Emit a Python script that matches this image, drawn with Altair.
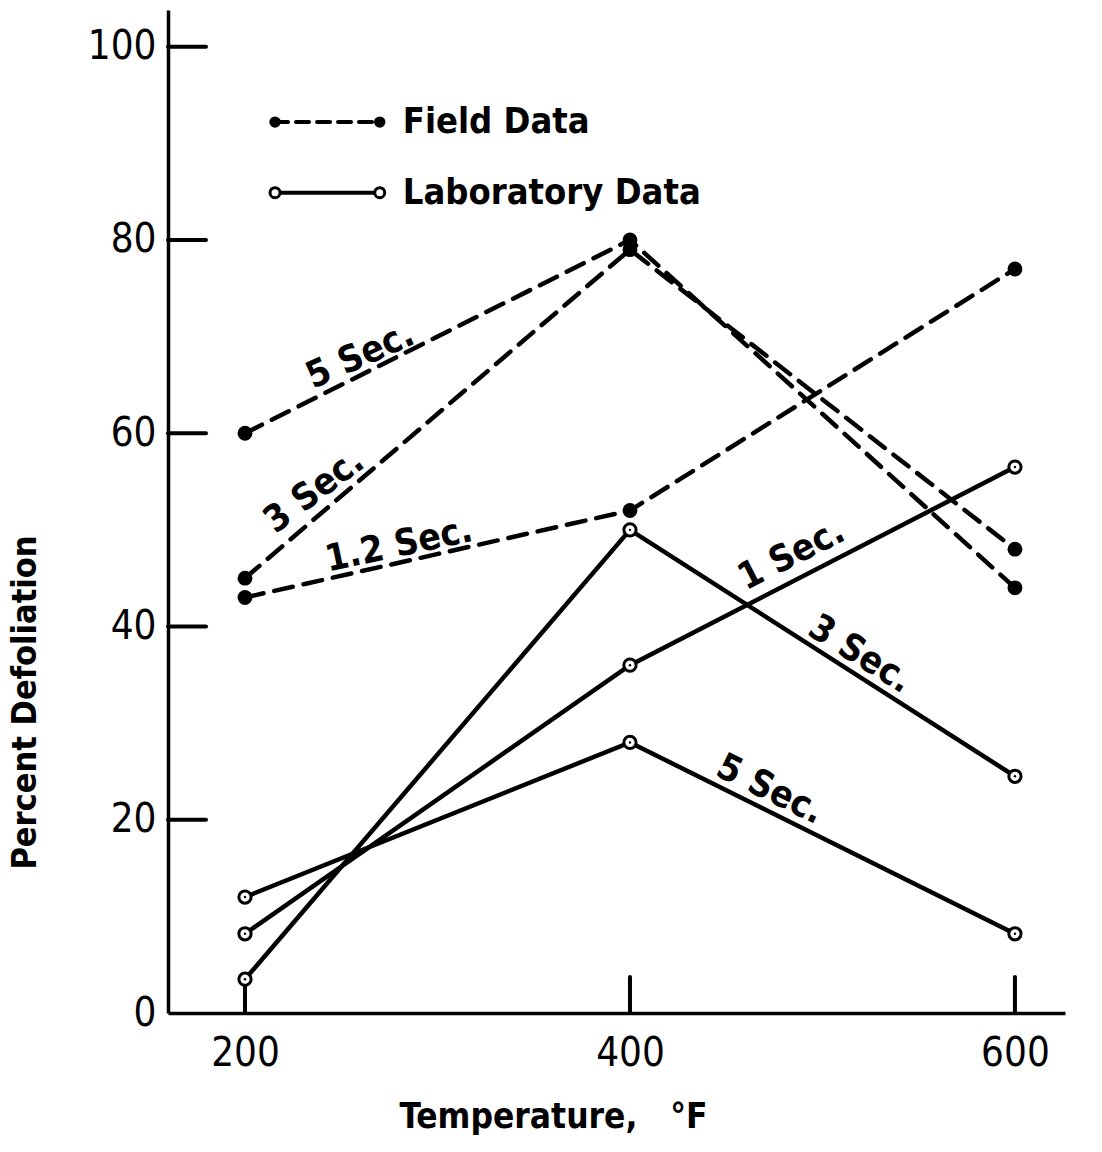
import altair as alt
import pandas as pd

# Temperatures (deg F) at which defoliation was measured
temps = [200, 400, 600]

# Field data (dashed lines, filled markers), one list per exposure time
field_series = ["5 Sec.", "3 Sec.", "1.2 Sec."]
field_values = [
    [60, 80, 44],
    [45, 79, 48],
    [43, 52, 77],
]

# Laboratory data (solid lines, open markers)
lab_series = ["1 Sec.", "3 Sec.", "5 Sec."]
lab_values = [
    [8.2, 36, 56.5],
    [3.5, 50, 24.5],
    [12, 28, 8.2],
]

# Curve labels placed along each line: (x, y, rotation)
field_label_x = [260, 236, 280]
field_label_y = [68, 54, 48.4]
field_label_angle = [336, 323, 348]
lab_label_x = [484, 519.5, 472.7]
lab_label_y = [47.4, 37.1, 23.1]
lab_label_angle = [333, 32, 26]

# Legend entries
legend_names = ["Field Data", "Laboratory Data"]
legend_kind = ["field", "lab"]
legend_y = [92.2, 84.9]
legend_x0 = 215.6
legend_x1 = 270.0
legend_text_x = 282.0

y_ticks = [0, 20, 40, 60, 80, 100]
x_ticks = [200, 400, 600]

FONT = "DejaVu Sans Condensed, Liberation Sans Narrow, DejaVu Sans"
INK = "#000000"
W, H = 897, 1003

# ---- tables ----
rows = []
for name, vals in zip(field_series, field_values):
    for t, v in zip(temps, vals):
        rows.append({"kind": "field", "series": "F " + name, "t": t, "v": v})
for name, vals in zip(lab_series, lab_values):
    for t, v in zip(temps, vals):
        rows.append({"kind": "lab", "series": "L " + name, "t": t, "v": v})
df = pd.DataFrame(rows)

labels = pd.DataFrame(
    {
        "text": field_series + lab_series,
        "t": field_label_x + lab_label_x,
        "v": field_label_y + lab_label_y,
        "angle": field_label_angle + lab_label_angle,
    }
)

leg_rows = []
for name, kind, yy in zip(legend_names, legend_kind, legend_y):
    leg_rows.append({"kind": kind, "series": name, "t": legend_x0, "v": yy})
    leg_rows.append({"kind": kind, "series": name, "t": legend_x1, "v": yy})
leg = pd.DataFrame(leg_rows)
leg_text = pd.DataFrame({"text": legend_names, "t": [legend_text_x] * 2, "v": legend_y})

xscale = alt.Scale(domain=[160, 626], nice=False, zero=False)
yscale = alt.Scale(domain=[0, 103.8], nice=False, zero=True)

x_axis = alt.Axis(
    values=x_ticks,
    ticks=False,
    grid=False,
    domainColor=INK,
    domainWidth=3.5,
    labelFont=FONT,
    labelFontSize=40,
    labelColor=INK,
    labelPadding=20,
    title="Temperature,\u00a0\u00a0\u00a0°F",
    titleFont=FONT,
    titleFontSize=35,
    titleFontWeight="bold",
    titleColor=INK,
    titleX=385,
    titleY=103,
    titleAnchor="middle",
    titleBaseline="middle",
)
y_axis = alt.Axis(
    values=y_ticks,
    ticks=False,
    grid=False,
    domainColor=INK,
    domainWidth=3.5,
    labelFont=FONT,
    labelFontSize=40,
    labelColor=INK,
    labelPadding=12,
    title="Percent Defoliation",
    titleFont=FONT,
    titleFontSize=34,
    titleFontWeight="bold",
    titleColor=INK,
    titleX=-143,
    titleY=692,
    titleAngle=270,
    titleAnchor="middle",
    titleBaseline="middle",
)


def X():
    return alt.X("t:Q", scale=xscale, axis=x_axis)


def Y():
    return alt.Y("v:Q", scale=yscale, axis=y_axis)


base = alt.Chart(df)

# inward ticks
ytick_df = pd.DataFrame({"v": y_ticks[1:]})
yticks = alt.Chart(ytick_df).mark_rule(color=INK, strokeWidth=4, strokeCap="round").encode(
    y=Y(), x=alt.value(0), x2=alt.value(38)
)
xtick_df = pd.DataFrame({"t": x_ticks})
xticks = alt.Chart(xtick_df).mark_rule(color=INK, strokeWidth=4, strokeCap="round").encode(
    x=X(), y=alt.value(H), y2=alt.value(H - 36)
)

field_lines = base.transform_filter(alt.datum.kind == "field").mark_line(
    color=INK, strokeWidth=4.5, strokeDash=[19, 11], strokeCap="round"
).encode(x=X(), y=Y(), detail="series:N")
lab_lines = base.transform_filter(alt.datum.kind == "lab").mark_line(
    color=INK, strokeWidth=4.5
).encode(x=X(), y=Y(), detail="series:N")

field_pts = base.transform_filter(alt.datum.kind == "field").mark_point(
    shape="circle", filled=True, color=INK, size=220, opacity=1
).encode(x=X(), y=Y())
lab_pts = base.transform_filter(alt.datum.kind == "lab").mark_point(
    shape="circle", filled=True, fill="white", stroke=INK, strokeWidth=3, size=150, opacity=1
).encode(x=X(), y=Y())
lab_dots = base.transform_filter(alt.datum.kind == "lab").mark_point(
    shape="circle", filled=True, color=INK, size=6, opacity=1
).encode(x=X(), y=Y())

curve_labels = alt.Chart(labels).mark_text(
    font=FONT, fontSize=37, fontWeight="bold", color=INK, align="center", baseline="middle"
).encode(x=X(), y=Y(), text="text:N", angle=alt.Angle("angle:Q", scale=None))

# legend
legc = alt.Chart(leg)
leg_field_line = legc.transform_filter(alt.datum.kind == "field").mark_line(
    color=INK, strokeWidth=4, strokeDash=[13, 8], strokeCap="round"
).encode(x=X(), y=Y())
leg_lab_line = legc.transform_filter(alt.datum.kind == "lab").mark_line(
    color=INK, strokeWidth=4
).encode(x=X(), y=Y())
leg_field_pts = legc.transform_filter(alt.datum.kind == "field").mark_point(
    shape="circle", filled=True, color=INK, size=130, opacity=1
).encode(x=X(), y=Y())
leg_lab_pts = legc.transform_filter(alt.datum.kind == "lab").mark_point(
    shape="circle", filled=True, fill="white", stroke=INK, strokeWidth=3, size=100, opacity=1
).encode(x=X(), y=Y())
leg_labels = alt.Chart(leg_text).mark_text(
    font=FONT, fontSize=36, fontWeight="bold", color=INK, align="left", baseline="middle"
).encode(x=X(), y=Y(), text="text:N")

chart = alt.layer(
    yticks,
    xticks,
    field_lines,
    lab_lines,
    field_pts,
    lab_pts,
    lab_dots,
    curve_labels,
    leg_field_line,
    leg_lab_line,
    leg_field_pts,
    leg_lab_pts,
    leg_labels,
).properties(
    width=W,
    height=H,
    padding={"left": 168, "top": 10, "right": 37, "bottom": 139},
    autosize=alt.AutoSizeParams(type="none"),
    background="white",
).configure_view(stroke=None)

chart.save("out.html", embed_options={"renderer": "svg", "actions": False})
